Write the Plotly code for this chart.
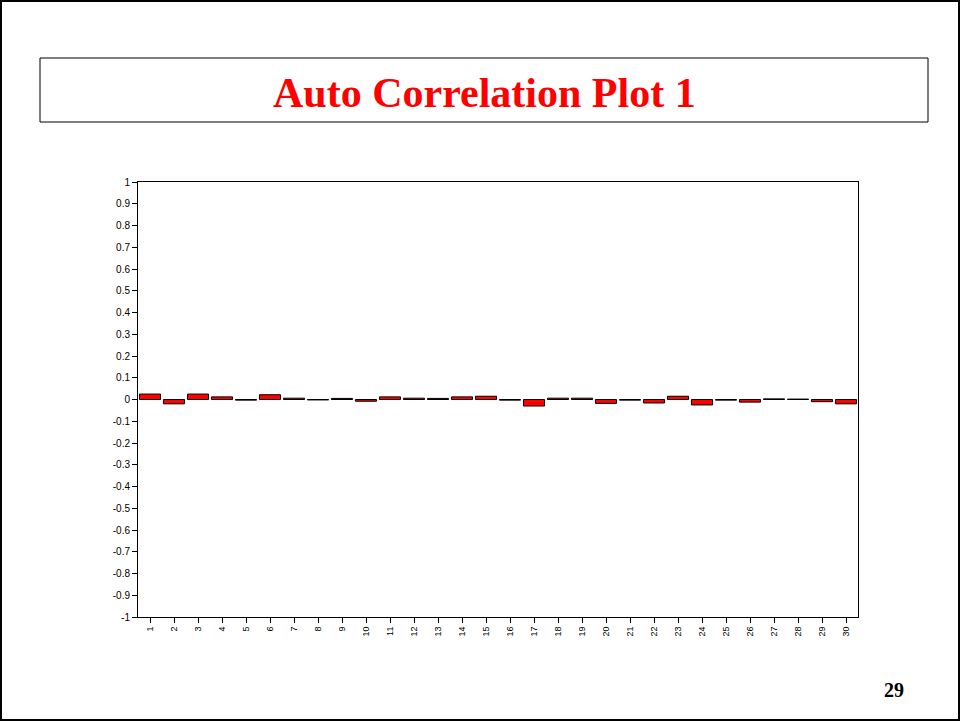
import plotly.graph_objects as go

lags = list(range(1, 31))
acf = [0.025, -0.02, 0.025, 0.012, -0.003, 0.022, 0.006, -0.002, 0.005, -0.008,
       0.012, 0.006, 0.005, 0.012, 0.015, -0.003, -0.03, 0.006, 0.006, -0.018,
       -0.003, -0.016, 0.015, -0.025, -0.003, -0.012, 0.003, 0.002, -0.01, -0.02]
y_ticks = [round(-1 + 0.1 * i, 1) for i in range(21)]
y_labels = [("%g" % v) for v in y_ticks]

W, H = 960, 721
L, R, T, B = 138, 858, 182, 617


def px(x):
    return (x - L) / (R - L)


def py(y):
    return (B - y) / (B - T)


fig = go.Figure()
fig.add_trace(go.Bar(
    x=lags, y=acf,
    marker=dict(color="#ff0000", line=dict(color="black", width=1)),
))

fig.update_layout(
    width=W, height=H,
    margin=dict(l=L, r=W - R, t=T, b=H - B),
    paper_bgcolor="white", plot_bgcolor="white",
    bargap=0.12, showlegend=False,
    font=dict(family="Arial, Liberation Sans", size=10, color="black"),
    xaxis=dict(
        range=[0.5, 30.5], tickmode="array", tickvals=lags,
        ticktext=[str(v) for v in lags], tickangle=-90,
        ticks="outside", ticklen=5, tickcolor="black",
        showline=True, linecolor="black", linewidth=1, mirror=True,
        showgrid=False, zeroline=False, tickfont=dict(size=9),
    ),
    yaxis=dict(
        range=[-1, 1], tickmode="array", tickvals=y_ticks, ticktext=y_labels,
        ticks="outside", ticklen=5, tickcolor="black",
        showline=True, linecolor="black", linewidth=1, mirror=True,
        showgrid=False, zeroline=False,
    ),
    shapes=[
        dict(type="rect", xref="paper", yref="paper",
             x0=px(1), x1=px(959), y0=py(1), y1=py(720),
             line=dict(color="black", width=2), layer="below"),
        dict(type="rect", xref="paper", yref="paper",
             x0=px(40), x1=px(928), y0=py(58), y1=py(122),
             line=dict(color="black", width=1)),
    ],
    annotations=[
        dict(text="<b>Auto Correlation Plot 1</b>", xref="paper", yref="paper",
             x=px(484), y=py(93), xanchor="center", yanchor="middle", showarrow=False,
             font=dict(family="Liberation Serif, Times New Roman", size=42, color="#ff0000")),
        dict(text="<b>29</b>", xref="paper", yref="paper",
             x=px(894), y=py(690), xanchor="center", yanchor="middle", showarrow=False,
             font=dict(family="Liberation Serif, Times New Roman", size=20, color="black")),
    ],
)

fig.write_html("out.html", config={"displayModeBar": False},
               post_script="document.body.style.margin='0';")
